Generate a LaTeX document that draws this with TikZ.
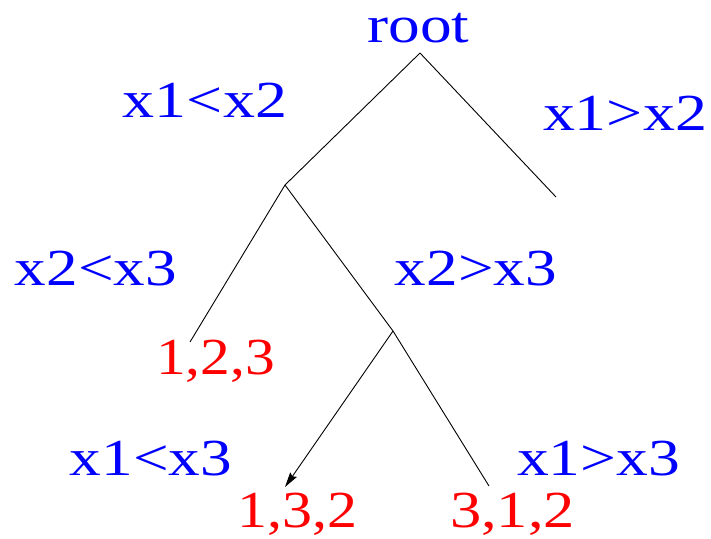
\documentclass[tikz,border=0pt]{standalone}
\usepackage{fontspec}
\setmainfont{Liberation Serif}
\usetikzlibrary{arrows.meta}
\newcommand\fitw[2]{\resizebox{#1pt}{\height}{#2}}
\begin{document}
\begin{tikzpicture}[x=1pt,y=-1pt,
  lab/.style={anchor=base,inner sep=0pt,text=blue,font=\fontsize{52}{52}\selectfont},
  leaf/.style={anchor=base,inner sep=0pt,text=red,font=\fontsize{52}{52}\selectfont},
  edge/.style={draw=black,line width=0.9pt}]
\useasboundingbox (0,0) rectangle (711,538);
% branch points
\coordinate (A) at (420,53);
\coordinate (L) at (285,185);
\coordinate (R) at (556,197);
\coordinate (B) at (393,331);
\coordinate (E123) at (190,342);
\coordinate (E132) at (285,487);
\coordinate (E312) at (489,486);
% labels
\node[lab] (root) at (418.5,42) {\fitw{102}{root}};
\node[lab] (c12a) at (205,117) {\fitw{164}{x1<x2}};
\node[lab] (c12b) at (625,130) {\fitw{164}{x1>x2}};
\node[lab] (c23a) at (96,285) {\fitw{162}{x2<x3}};
\node[lab] (c23b) at (476,285) {\fitw{162}{x2>x3}};
\node[lab] (c13a) at (151,475) {\fitw{162}{x1<x3}};
\node[lab] (c13b) at (598.5,475) {\fitw{163}{x1>x3}};
\node[leaf] (l123) at (215.5,374) {\fitw{119}{1,2,3}};
\node[leaf] (l132) at (297,527) {\fitw{120}{1,3,2}};
\node[leaf] (l312) at (512.5,527) {\fitw{125}{3,1,2}};
% edges
\draw[edge] (A) -- (L);
\draw[edge] (A) -- (R);
\draw[edge] (L) -- (E123);
\draw[edge] (L) -- (B);
\draw[edge,-{Stealth[length=15pt,width=8pt,inset=2pt]}] (B) -- (E132);
\draw[edge] (B) -- (E312);
\end{tikzpicture}
\end{document}
